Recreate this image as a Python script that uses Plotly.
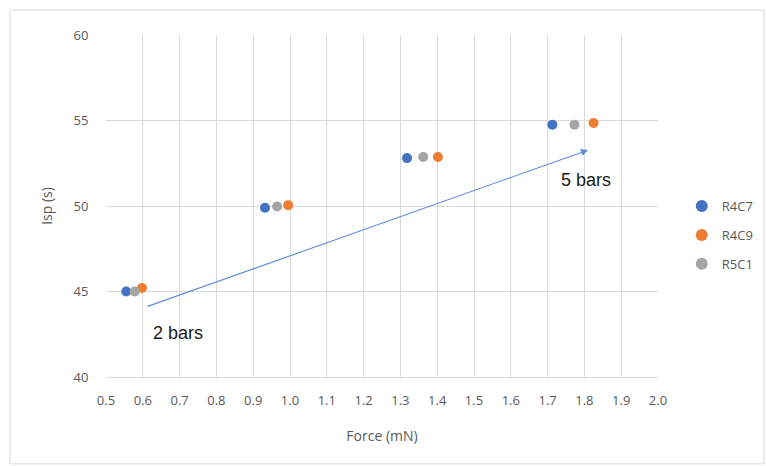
import plotly.graph_objects as go

series_names = ["R4C7", "R4C9", "R5C1"]
force_r4c7 = [0.555, 0.932, 1.318, 1.713]
isp_r4c7 = [45.0, 49.9, 52.8, 54.75]
force_r4c9 = [0.598, 0.995, 1.402, 1.825]
isp_r4c9 = [45.2, 50.05, 52.87, 54.85]
force_r5c1 = [0.578, 0.965, 1.362, 1.773]
isp_r5c1 = [45.0, 49.97, 52.87, 54.75]
colors = ["#4472C4", "#ED7D31", "#A5A5A5"]

arrow_start = (0.609, 44.1)
arrow_end = (1.81, 53.27)
label_2bars = (0.695, 42.6)
label_5bars = (1.803, 51.55)

xticks = [round(0.5 + 0.1 * i, 1) for i in range(16)]
yticks = [40, 45, 50, 55, 60]

fig = go.Figure()
for name, xs, ys, c in zip(series_names,
                           [force_r4c7, force_r4c9, force_r5c1],
                           [isp_r4c7, isp_r4c9, isp_r5c1], colors):
    fig.add_trace(go.Scatter(x=xs, y=ys, mode="markers", name=name, legendgroup=name,
                             marker=dict(color=c, size=10, line=dict(width=0))))

fig.add_annotation(x=arrow_end[0], y=arrow_end[1], ax=arrow_start[0], ay=arrow_start[1],
                   xref="x", yref="y", axref="x", ayref="y", text="", showarrow=True,
                   arrowhead=2, arrowsize=1.3, arrowwidth=1.1, arrowcolor="#5B8BD9")
fig.add_annotation(x=label_2bars[0], y=label_2bars[1], text="2 bars", showarrow=False,
                   font=dict(size=18, color="#1a1a1a", family="Liberation Sans, Arial"))
fig.add_annotation(x=label_5bars[0], y=label_5bars[1], text="5 bars", showarrow=False,
                   font=dict(size=18, color="#1a1a1a", family="Liberation Sans, Arial"))

fig.add_shape(type="rect", xref="paper", yref="paper", x0=-0.174, x1=1.192, y0=-0.254, y1=1.073,
              line=dict(color="#D9D9D9", width=1), fillcolor="rgba(0,0,0,0)")

fig.update_layout(
    width=766, height=466,
    margin=dict(l=106, r=108, t=35, b=89, autoexpand=False),
    paper_bgcolor="white", plot_bgcolor="white",
    font=dict(family="Open Sans, Liberation Sans, Arial", color="#595959", size=13),
    showlegend=True,
    legend=dict(x=1.043, y=0.415, xanchor="left", yanchor="middle",
                font=dict(size=13, color="#595959"), itemsizing="constant",
                tracegroupgap=9, itemwidth=30),
)
fig.update_xaxes(range=[0.5, 2.0], tickvals=xticks, ticktext=[f"{v:.1f}" for v in xticks],
                 showgrid=True, gridcolor="#D9D9D9", gridwidth=1, zeroline=False,
                 showline=True, linecolor="#D9D9D9", ticks="outside", ticklen=11,
                 tickcolor="rgba(0,0,0,0)",
                 title=dict(text="Force (mN)", standoff=23, font=dict(size=14, color="#595959")))
fig.update_yaxes(range=[40, 60], tickvals=yticks,
                 showgrid=True, gridcolor="#D9D9D9", gridwidth=1, zeroline=False,
                 showline=False, ticks="outside", ticklen=14, tickcolor="rgba(0,0,0,0)",
                 title=dict(text="Isp (s)", standoff=17, font=dict(size=14, color="#595959")))

fig.write_html("out.html")
